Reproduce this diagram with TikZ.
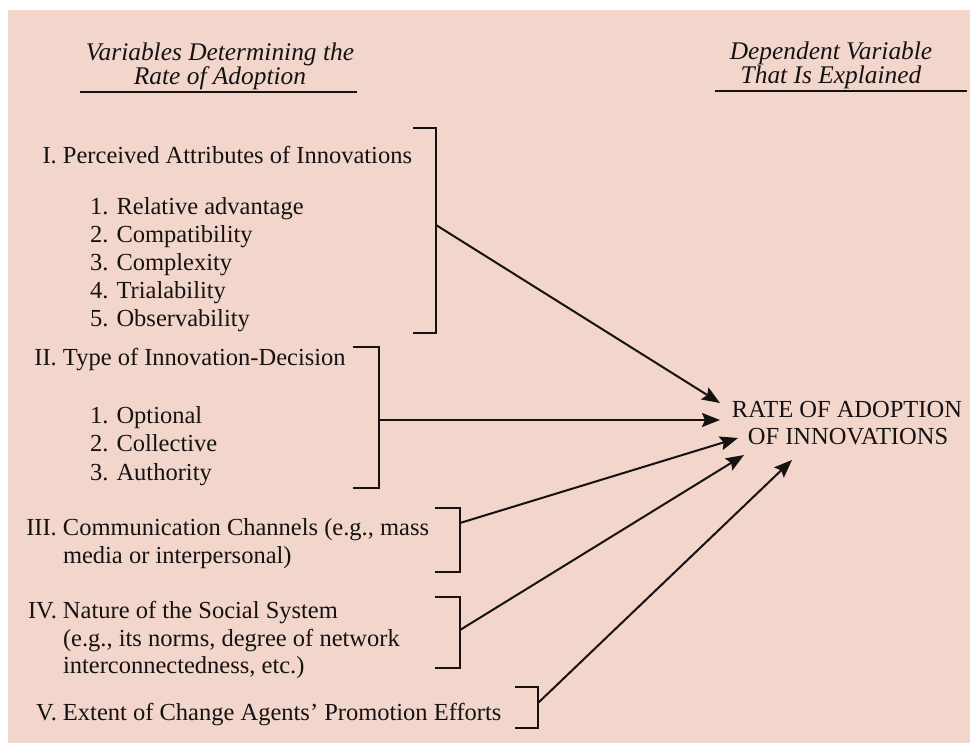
\documentclass[tikz,border=0pt]{standalone}
\usepackage{fontspec}
\setmainfont{Liberation Serif}
\usetikzlibrary{arrows.meta}
\definecolor{paper}{RGB}{242,214,204}
\definecolor{ink}{RGB}{22,18,18}
\newcommand{\numlbl}[1]{\makebox[40pt][r]{#1\ }}
\begin{document}
\begin{tikzpicture}[x=1pt,y=-1pt,
  every node/.style={inner sep=0pt, outer sep=0pt, text=ink, font=\fontsize{24.5}{28}\selectfont},
  txt/.style={anchor=base west},
  hd/.style={anchor=base, font=\fontsize{25.4}{28}\selectfont\itshape},
  ctr/.style={anchor=base},
  brk/.style={draw=ink, line width=2pt},
  arr/.style={draw=ink, line width=2pt, -{Stealth[length=18pt,width=14pt,inset=3pt]}},
  hrule/.style={draw=ink, line width=1.6pt}]
\useasboundingbox (0,0) rectangle (970,743);
\fill[white] (0,0) rectangle (970,743);
\fill[paper] (8,10) rectangle (970,743);

% headers
\node[hd] (h1a) at (220,61) {Variables Determining the};
\node[hd] (h1b) at (220,85) {Rate of Adoption};
\draw[hrule] (80,92) -- (357,92);
\node[hd] (h2a) at (831,60) {Dependent Variable};
\node[hd] (h2b) at (831,84) {That Is Explained};
\draw[hrule] (715,91) -- (967,91);

% I
\node[txt] (s1) at (23,164) {\numlbl{I.}Perceived Attributes of Innovations};
\node[txt] (s1a) at (90,215) {1. Relative advantage};
\node[txt] (s1b) at (90,243) {2. Compatibility};
\node[txt] (s1c) at (90,271) {3. Complexity};
\node[txt] (s1d) at (90,299) {4. Trialability};
\node[txt] (s1e) at (90,327) {5. Observability};
\draw[brk] (413,128) -- (436,128) -- (436,333) -- (413,333);
\coordinate (b1) at (436,225);

% II
\node[txt] (s2) at (23,366) {\numlbl{II.}Type of Innovation-Decision};
\node[txt] (s2a) at (90,424) {1. Optional};
\node[txt] (s2b) at (90,452) {2. Collective};
\node[txt] (s2c) at (90,480) {3. Authority};
\draw[brk] (353,347) -- (379,347) -- (379,488) -- (353,488);
\coordinate (b2) at (379,420);

% III
\node[txt] (s3) at (23,535) {\numlbl{III.}Communication Channels (e.g., mass};
\node[txt] (s3a) at (63,563) {media or interpersonal)};
\draw[brk] (435,508) -- (460,508) -- (460,572) -- (435,572);
\coordinate (b3) at (460,523);

% IV
\node[txt] (s4) at (23,618) {\numlbl{IV.}Nature of the Social System};
\node[txt] (s4a) at (63,646) {(e.g., its norms, degree of network};
\node[txt] (s4b) at (63,673) {interconnectedness, etc.)};
\draw[brk] (435,597) -- (460,597) -- (460,668) -- (435,668);
\coordinate (b4) at (460,630);

% V
\node[txt] (s5) at (23,720) {\numlbl{V.}Extent of Change Agents’ Promotion Efforts};
\draw[brk] (515,687) -- (538,687) -- (538,728) -- (515,728);
\coordinate (b5) at (538,703);

% dependent variable
\node[ctr] (r1) at (847,418) {RATE OF ADOPTION};
\node[ctr] (r2) at (848,445) {OF INNOVATIONS};
\coordinate (t1) at (720,403);
\coordinate (t2) at (720,420);
\coordinate (t3) at (738,438);
\coordinate (t4) at (744,455);
\coordinate (t5) at (792,460);

\draw[arr] (b1) -- (t1);
\draw[arr] (b2) -- (t2);
\draw[arr] (b3) -- (t3);
\draw[arr] (b4) -- (t4);
\draw[arr] (b5) -- (t5);
\end{tikzpicture}
\end{document}
